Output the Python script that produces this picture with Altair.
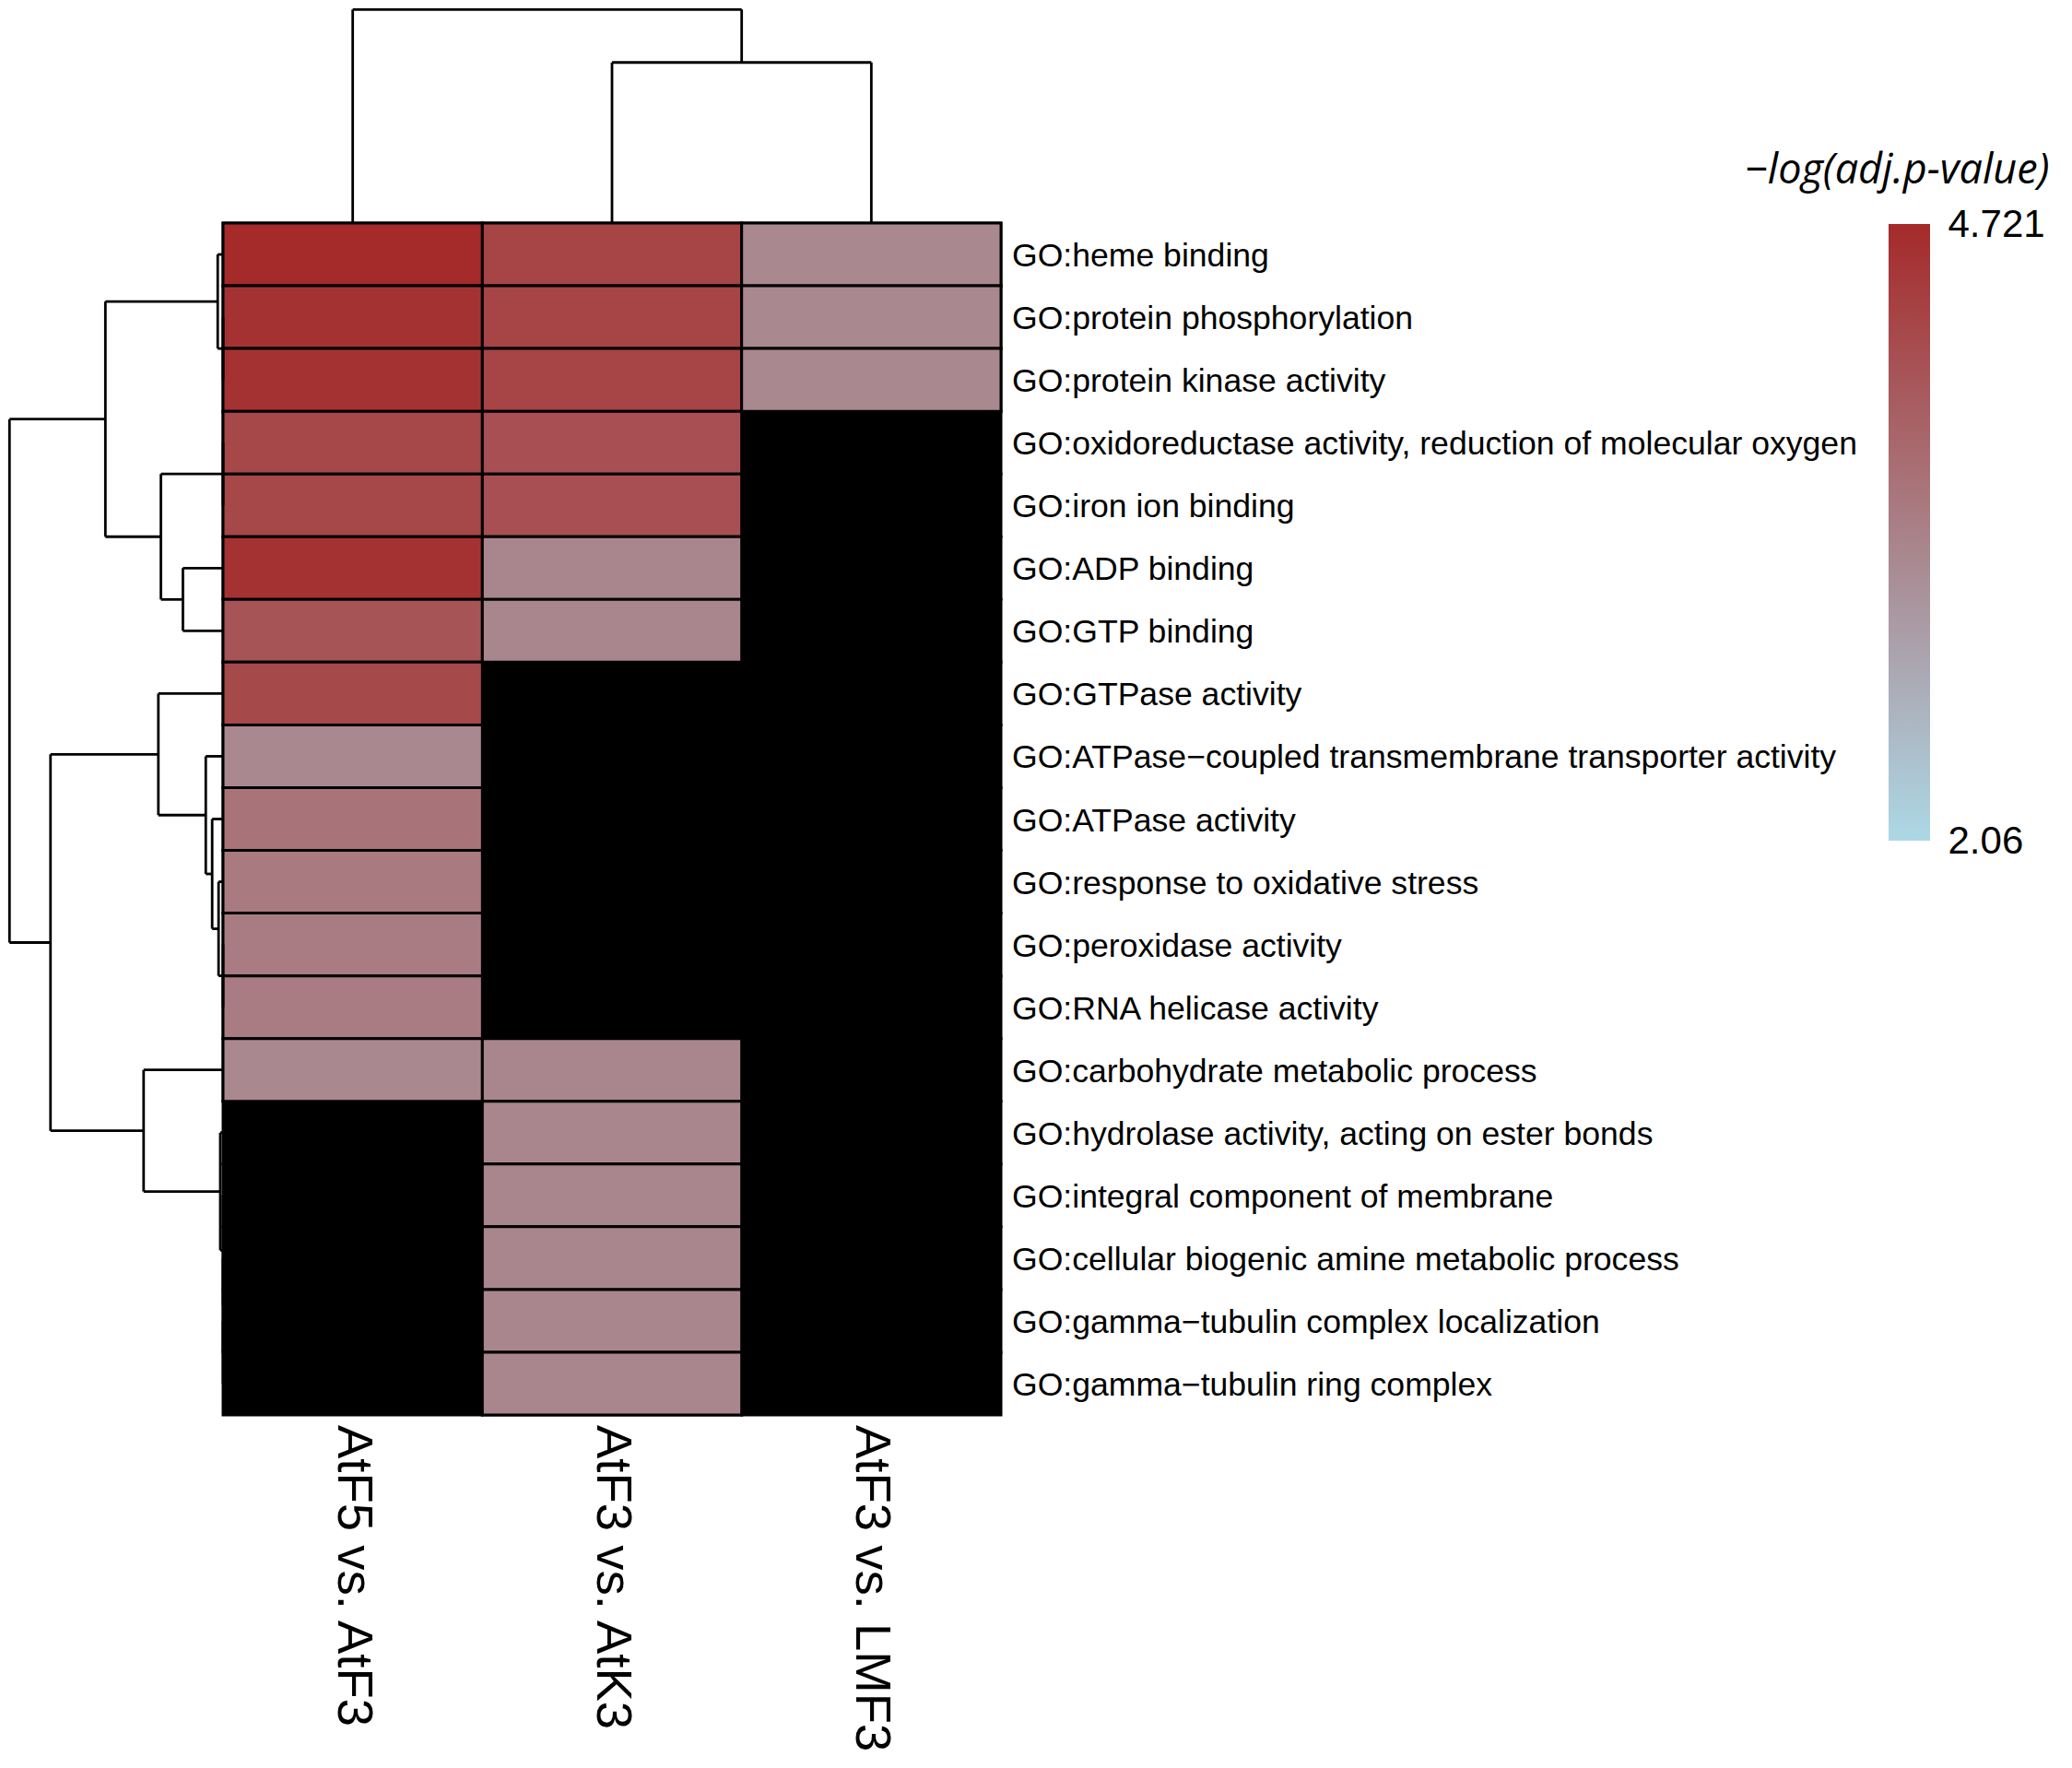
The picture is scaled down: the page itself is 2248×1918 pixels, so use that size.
import altair as alt
import pandas as pd

# ---------------- data ----------------
row_labels = [
    "GO:heme binding",
    "GO:protein phosphorylation",
    "GO:protein kinase activity",
    "GO:oxidoreductase activity, reduction of molecular oxygen",
    "GO:iron ion binding",
    "GO:ADP binding",
    "GO:GTP binding",
    "GO:GTPase activity",
    "GO:ATPase\u2212coupled transmembrane transporter activity",
    "GO:ATPase activity",
    "GO:response to oxidative stress",
    "GO:peroxidase activity",
    "GO:RNA helicase activity",
    "GO:carbohydrate metabolic process",
    "GO:hydrolase activity, acting on ester bonds",
    "GO:integral component of membrane",
    "GO:cellular biogenic amine metabolic process",
    "GO:gamma\u2212tubulin complex localization",
    "GO:gamma\u2212tubulin ring complex",
]
col_labels = ["AtF5 vs. AtF3", "AtF3 vs. AtK3", "AtF3 vs. LMF3"]

vals_atf5_atf3 = [4.72, 4.60, 4.60, 4.28, 4.28, 4.60, 4.08, 4.25, 3.28, 3.59,
                  3.50, 3.46, 3.46, 3.29, None, None, None, None, None]
vals_atf3_atk3 = [4.32, 4.32, 4.32, 4.15, 4.15, 3.31, 3.31, None, None, None,
                  None, None, None, 3.32, 3.31, 3.31, 3.31, 3.31, 3.31]
vals_atf3_lmf3 = [3.28, 3.28, 3.28, None, None, None, None, None, None, None,
                  None, None, None, None, None, None, None, None, None]

legend_min = 2.06
legend_max = 4.721
legend_title = "\u2212log(adj.p-value)"
low_color = "#ADD8E6"    # lightblue
high_color = "#A52A2A"   # brown

# dendrogram merges: (child a, child b, relative height); ids >= n are earlier merges
row_merges = [
    (1, 2, 0.0), (0, 19, 0.025), (3, 4, 0.0), (5, 6, 0.188), (21, 22, 0.291),
    (20, 23, 0.551), (11, 12, 0.0), (10, 25, 0.021), (9, 26, 0.051), (8, 27, 0.081),
    (7, 28, 0.303), (17, 18, 0.0), (16, 30, 0.0), (15, 31, 0.0), (14, 32, 0.013),
    (13, 33, 0.372), (29, 34, 0.808), (24, 35, 1.0),
]
col_merges = [(1, 2, 0.752), (0, 3, 1.0)]

# ---------------- tables ----------------
n_rows = len(row_labels)
n_cols = len(col_labels)
all_vals = [vals_atf5_atf3, vals_atf3_atk3, vals_atf3_lmf3]

cells = []
for j, col in enumerate(all_vals):
    for i, v in enumerate(col):
        cells.append({"row": row_labels[i], "col": col_labels[j],
                      "x0": j, "x1": j + 1, "y0": i, "y1": i + 1, "value": v})
cells_df = pd.DataFrame(cells)
valid_df = cells_df[cells_df["value"].notna()].copy()


def dendro_segments(merges, n_leaves):
    pos = {k: k + 0.5 for k in range(n_leaves)}
    hgt = {k: 0.0 for k in range(n_leaves)}
    segs = []
    for m, (a, b, h) in enumerate(merges):
        nid = n_leaves + m
        pa, pb = pos[a], pos[b]
        segs.append({"p0": pa, "p1": pb, "h0": h, "h1": h})
        segs.append({"p0": pa, "p1": pa, "h0": hgt[a], "h1": h})
        segs.append({"p0": pb, "p1": pb, "h0": hgt[b], "h1": h})
        pos[nid] = (pa + pb) / 2
        hgt[nid] = h
    return segs


LEFT_SPAN = 0.8236   # width of row dendrogram in column units
TOP_SPAN = 3.405     # height of column dendrogram in row units

row_seg = pd.DataFrame(dendro_segments(row_merges, n_rows))
row_seg["x0"] = -row_seg["h0"] * LEFT_SPAN
row_seg["x1"] = -row_seg["h1"] * LEFT_SPAN
row_seg["y0"] = row_seg["p0"]
row_seg["y1"] = row_seg["p1"]

col_seg = pd.DataFrame(dendro_segments(col_merges, n_cols))
col_seg["x0"] = col_seg["p0"]
col_seg["x1"] = col_seg["p1"]
col_seg["y0"] = -col_seg["h0"] * TOP_SPAN
col_seg["y1"] = -col_seg["h1"] * TOP_SPAN

row_text = pd.DataFrame({"label": row_labels,
                         "x": [n_cols] * n_rows,
                         "y": [i + 0.5 for i in range(n_rows)]})
col_text = pd.DataFrame({"label": col_labels,
                         "x": [j + 0.5 for j in range(n_cols)],
                         "y": [n_rows] * n_cols})
legend_df = pd.DataFrame({"lo": [legend_min], "hi": [legend_max]})

# ---------------- scales ----------------
PLOT_W, PLOT_H = 1077, 1526
xs = alt.Scale(domain=[-0.8282, n_cols], nice=False, zero=False)
ys = alt.Scale(domain=[-3.424, n_rows], nice=False, zero=False, reverse=True)

color_scale = alt.Scale(domain=[legend_min, legend_max],
                        range=[low_color, high_color], interpolate="rgb")

# colour-bar placement (pixels inside the plot group)
LEG_X0, LEG_X1 = 2040, 2085
LEG_TOP, LEG_BOTTOM = 234, 903
xs_leg = alt.Scale(domain=[0, 1], range=[LEG_X0, LEG_X1], nice=False, zero=False)
ys_leg = alt.Scale(domain=[legend_min, legend_max], range=[LEG_BOTTOM, LEG_TOP],
                   nice=False, zero=False)

bg = alt.Chart(cells_df).mark_rect(fill="black", stroke="black", strokeWidth=3).encode(
    x=alt.X("x0:Q", scale=xs, axis=None), x2="x1:Q",
    y=alt.Y("y0:Q", scale=ys, axis=None), y2="y1:Q",
)

heat = alt.Chart(valid_df).mark_rect(stroke="black", strokeWidth=3).encode(
    x=alt.X("x0:Q", scale=xs, axis=None), x2="x1:Q",
    y=alt.Y("y0:Q", scale=ys, axis=None), y2="y1:Q",
    color=alt.Color("value:Q", scale=color_scale, legend=None),
)

row_dendro = alt.Chart(row_seg).mark_rule(color="black", strokeWidth=2.8).encode(
    x=alt.X("x0:Q", scale=xs, axis=None), x2="x1:Q",
    y=alt.Y("y0:Q", scale=ys, axis=None), y2="y1:Q",
)
col_dendro = alt.Chart(col_seg).mark_rule(color="black", strokeWidth=2.8).encode(
    x=alt.X("x0:Q", scale=xs, axis=None), x2="x1:Q",
    y=alt.Y("y0:Q", scale=ys, axis=None), y2="y1:Q",
)

row_lab = alt.Chart(row_text).mark_text(
    align="left", baseline="middle", dx=12, dy=2, font="Liberation Sans",
    fontSize=35.6, color="black",
).encode(
    x=alt.X("x:Q", scale=xs, axis=None),
    y=alt.Y("y:Q", scale=ys, axis=None),
    text="label:N",
)

col_lab = alt.Chart(col_text).mark_text(
    align="left", baseline="middle", angle=90, dx=11, font="Liberation Sans",
    fontSize=54.5, color="black",
).encode(
    x=alt.X("x:Q", scale=xs, axis=None),
    y=alt.Y("y:Q", scale=ys, axis=None),
    text="label:N",
)

colorbar = alt.Chart(legend_df).mark_rect(
    fill=alt.Gradient(
        gradient="linear",
        stops=[alt.GradientStop(color=low_color, offset=0),
               alt.GradientStop(color=high_color, offset=1)],
        x1=0, x2=0, y1=1, y2=0,
    ),
).encode(
    x=alt.XDatum(0, scale=xs_leg, axis=None),
    x2=alt.X2Datum(1),
    y=alt.Y(
        "lo:Q", scale=ys_leg,
        axis=alt.Axis(
            orient="right", offset=LEG_X1 - PLOT_W,
            values=[legend_min, legend_max], format=".4~f",
            ticks=False, domain=False, grid=False,
            labelFont="Liberation Sans", labelFontSize=42, labelColor="black",
            labelPadding=19, labelBaseline="middle", labelFlush=False,
            labelOverlap=False, labelLimit=1000,
            title=legend_title, titleAngle=0, titleAlign="right",
            titleBaseline="alphabetic", titleX=129, titleY=189,
            titleFont="Open Sans", titleFontStyle="italic", titleFontWeight="normal",
            titleFontSize=45, titleColor="black", titleLimit=2000,
        ),
    ),
    y2="hi:Q",
)

chart = alt.layer(bg, heat, row_dendro, col_dendro, row_lab, col_lab, colorbar).resolve_scale(
    x="independent", y="independent"
).properties(
    width=PLOT_W, height=PLOT_H, padding=0, background="white",
).configure_view(stroke=None)

chart.save("out.html", embed_options={"renderer": "svg", "actions": False})
